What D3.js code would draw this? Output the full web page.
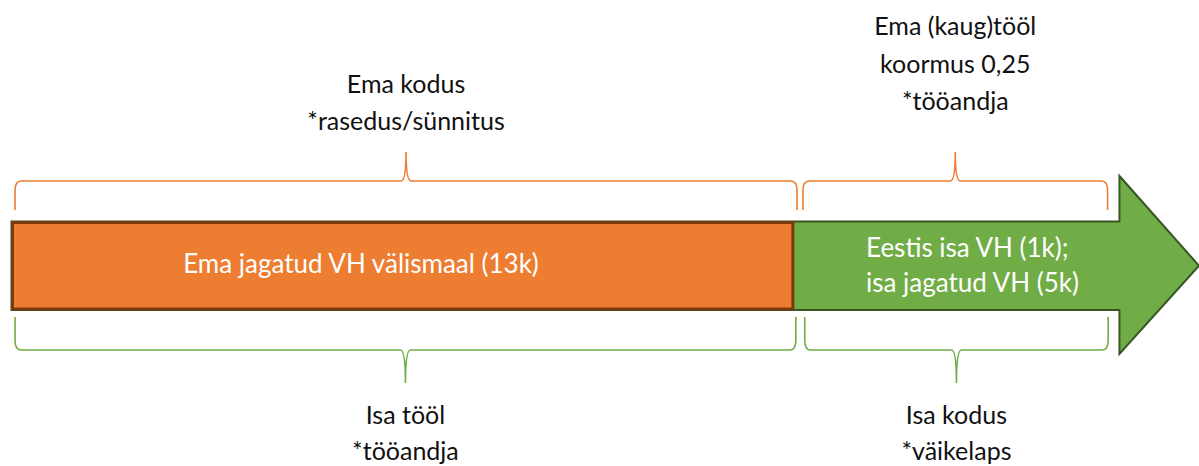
<!DOCTYPE html>
<html>
<head>
<meta charset="utf-8">
<script src="https://cdn.jsdelivr.net/npm/d3@7"></script>
<style>
  html, body { margin: 0; padding: 0; background: #fff; }
  svg text { font-family: Lato, "Noto Sans", sans-serif; }
</style>
</head>
<body>
<div class="chartContainer"></div>
<script>
// timeline positions in % of the total span (0 = bar start, 100 = arrow tip)
const segments = [
  { id: 'ema', start: 0, end: 65.8, label: ['Ema jagatud VH välismaal (13k)'] },
  { id: 'isa', start: 65.8, end: 100, label: ['Eestis isa VH (1k);', 'isa jagatud VH (5k)'] }
];
const arrowHeadStart = 93.3;

const topBraces = [
  { start: 0.3, end: 66.15, lines: ['Ema kodus', '*rasedus/sünnitus'] },
  { start: 66.65, end: 92.3, lines: ['Ema (kaug)tööl', 'koormus 0,25', '*tööandja'] }
];
const bottomBraces = [
  { start: 0.3, end: 66.05, lines: ['Isa tööl', '*tööandja'] },
  { start: 66.8, end: 92.35, lines: ['Isa kodus', '*väikelaps'] }
];

const width = 1199, height = 466;
const svg = d3.select('.chartContainer')
  .append('svg')
  .attr('width', width)
  .attr('height', height);

const x = d3.scaleLinear().domain([0, 100]).range([11.5, 1199]);

const bar = { top: 221.5, bottom: 310, headTop: 176, headBottom: 354 };
const midY = (bar.top + bar.bottom) / 2;

// green arrow (drawn under the orange block)
const isa = segments[1];
const arrowPts = [
  [x(segments[0].start), bar.top],
  [x(arrowHeadStart), bar.top],
  [x(arrowHeadStart), bar.headTop],
  [x(isa.end), midY],
  [x(arrowHeadStart), bar.headBottom],
  [x(arrowHeadStart), bar.bottom],
  [x(segments[0].start), bar.bottom]
];
svg.append('path')
  .attr('d', d3.line()(arrowPts) + 'Z')
  .attr('fill', '#70AD47')
  .attr('stroke', '#375623')
  .attr('stroke-width', 2);

const ema = segments[0];
svg.append('rect')
  .attr('x', x(ema.start) + 1)
  .attr('y', bar.top + 1)
  .attr('width', x(ema.end) - x(ema.start) - 1)
  .attr('height', bar.bottom - bar.top - 2)
  .attr('fill', '#ED7D31')
  .attr('stroke', '#7A3A0E')
  .attr('stroke-width', 3);

// bar labels
svg.append('text')
  .attr('x', 361)
  .attr('y', 273)
  .attr('text-anchor', 'middle')
  .attr('fill', '#fff')
  .style('font-size', '26px')
  .text(ema.label[0]);

svg.selectAll('.isaLabel')
  .data(isa.label)
  .enter()
  .append('text')
  .attr('class', 'isaLabel')
  .attr('x', 866)
  .attr('y', (d, i) => 256.5 + i * 35)
  .attr('fill', '#fff')
  .style('font-size', '26px')
  .text(d => d);

// curly brace path between x0 and x1, tip pointing to yTip
function brace(x0, x1, yEnd, yMid, yTip) {
  const xc = (x0 + x1) / 2, r = 6, rt = 5;
  const s = Math.sign(yMid - yEnd);
  const p = d3.path();
  p.moveTo(x0, yEnd);
  p.lineTo(x0, yMid - s * r * 1.6);
  p.quadraticCurveTo(x0, yMid, x0 + r, yMid);
  p.lineTo(xc - rt, yMid);
  p.quadraticCurveTo(xc, yMid, xc, yTip);
  p.quadraticCurveTo(xc, yMid, xc + rt, yMid);
  p.lineTo(x1 - r, yMid);
  p.quadraticCurveTo(x1, yMid, x1, yMid - s * r * 1.6);
  p.lineTo(x1, yEnd);
  return p.toString();
}

svg.selectAll('.topBrace')
  .data(topBraces)
  .enter()
  .append('path')
  .attr('class', 'topBrace')
  .attr('d', d => brace(x(d.start), x(d.end), 210, 181, 152))
  .attr('fill', 'none')
  .attr('stroke', '#ED7D31')
  .attr('stroke-width', 1.6);

svg.selectAll('.bottomBrace')
  .data(bottomBraces)
  .enter()
  .append('path')
  .attr('class', 'bottomBrace')
  .attr('d', d => brace(x(d.start), x(d.end), 317, 350, 383))
  .attr('fill', 'none')
  .attr('stroke', '#70AD47')
  .attr('stroke-width', 1.6);

// brace captions
const topBase = [[93, 130], [35, 73, 110]];
topBraces.forEach((b, j) => {
  svg.append('g').selectAll('text')
    .data(b.lines)
    .enter()
    .append('text')
    .attr('x', (x(b.start) + x(b.end)) / 2)
    .attr('y', (d, i) => topBase[j][i])
    .attr('text-anchor', 'middle')
    .attr('fill', '#111')
    .style('font-size', '25px')
    .text(d => d);
});

bottomBraces.forEach(b => {
  svg.append('g').selectAll('text')
    .data(b.lines)
    .enter()
    .append('text')
    .attr('x', (x(b.start) + x(b.end)) / 2)
    .attr('y', (d, i) => 424 + i * 35.5)
    .attr('text-anchor', 'middle')
    .attr('fill', '#111')
    .style('font-size', '25px')
    .text(d => d);
});
</script>
</body>
</html>
